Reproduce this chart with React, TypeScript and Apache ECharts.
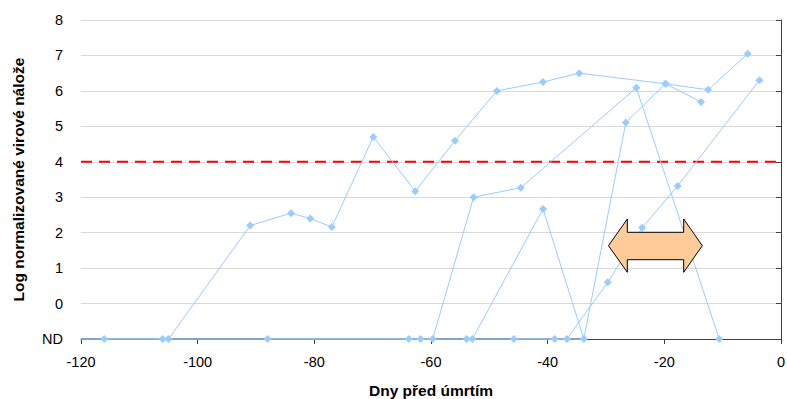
import React, { useEffect, useRef } from "react";
import * as echarts from "echarts";

const ND = -1;
const seriesA: [number, number][] = [
  [-116, ND], [-106, ND], [-105, ND], [-91, 2.2], [-84, 2.55], [-80.7, 2.4], [-77, 2.16],
  [-69.9, 4.7], [-62.7, 3.17], [-55.9, 4.59], [-48.7, 6.0], [-40.8, 6.25], [-34.6, 6.5],
  [-19.8, 6.2], [-12.5, 6.03], [-5.7, 7.05],
];
const seriesB: [number, number][] = [
  [-88, ND], [-63.8, ND], [-61.8, ND], [-59.7, ND], [-52.7, 3.0], [-44.6, 3.27], [-24.8, 6.09], [-10.6, ND],
];
const seriesC: [number, number][] = [
  [-53.9, ND], [-52.9, ND], [-40.8, 2.67], [-33.8, ND], [-26.6, 5.11], [-19.8, 6.2], [-13.7, 5.69],
];
const seriesE: [number, number][] = [
  [-45.8, ND], [-38.8, ND], [-36.7, ND], [-29.7, 0.6], [-23.8, 2.14], [-17.7, 3.32], [-3.7, 6.3],
];
const ndBaseline: [number, number][] = [[-120, ND], [-33.8, ND]];
const threshold = 4;
const thresholdLine: [number, number][] = [[-120, threshold], [-0.8, threshold]];
const yTickLabels: Record<number, string> = { [-1]: "ND" };

const FONT = "'Liberation Sans', Arial, sans-serif";
const BLUE = "#99ccff";

export default function App() {
  const ref = useRef<HTMLDivElement>(null);
  useEffect(() => {
    if (!ref.current) return;
    const chart = echarts.init(ref.current, null, { renderer: "svg" });
    const patient = (data: [number, number][]) => ({
      type: "line",
      data,
      symbol: "diamond",
      symbolSize: 8,
      lineStyle: { color: BLUE, width: 1 },
      itemStyle: { color: BLUE },
      z: 3,
    });
    chart.setOption({
      animation: false,
      grid: { left: 81, right: 6, top: 20, bottom: 60, containLabel: false, outerBoundsMode: "none" },
      xAxis: {
        type: "value",
        min: -120,
        max: 0,
        interval: 20,
        name: "Dny před úmrtím",
        nameLocation: "middle",
        nameGap: 43,
        nameTextStyle: { fontFamily: FONT, fontSize: 15.5, fontWeight: "bold", color: "#000" },
        axisLine: { show: true, onZero: false, lineStyle: { color: "#404040", width: 1 } },
        axisTick: { show: true, inside: false, length: 5, lineStyle: { color: "#404040" } },
        axisLabel: { fontFamily: FONT, fontSize: 14.5, color: "#000", margin: 15 },
        splitLine: { show: false },
      },
      yAxis: {
        type: "value",
        min: -1,
        max: 8,
        interval: 1,
        name: "Log normalizované virové nálože",
        nameLocation: "middle",
        nameGap: 55,
        nameTextStyle: { fontFamily: FONT, fontSize: 15.5, fontWeight: "bold", color: "#000" },
        axisLine: { show: true, lineStyle: { color: "#404040", width: 1 } },
        axisTick: { show: true, inside: false, length: 5, lineStyle: { color: "#404040" } },
        axisLabel: {
          fontFamily: FONT,
          fontSize: 14.5,
          color: "#000",
          margin: 18,
          formatter: (v: number) => yTickLabels[v] ?? String(v),
        },
        splitLine: { show: true, lineStyle: { color: "#d9d9d9", width: 1 } },
      },
      series: [
        {
          type: "line",
          data: ndBaseline,
          symbol: "none",
          lineStyle: { color: "#82a3cc", width: 2 },
          z: 2,
        },
        {
          type: "line",
          data: thresholdLine,
          symbol: "none",
          lineStyle: { color: "#ff0000", width: 2, type: [11, 7] },
          z: 2,
        },
        patient(seriesA),
        patient(seriesB),
        patient(seriesC),
        patient(seriesE),
      ],
      graphic: [
        {
          type: "polygon",
          z: 100,
          shape: {
            points: [
              [608.5, 245.7], [627.3, 219], [627.3, 232.3], [683.7, 232.3], [683.7, 219],
              [702.3, 245.7], [683.7, 272.3], [683.7, 259.7], [627.3, 259.7], [627.3, 272.3],
            ],
          },
          style: { fill: "#ffcc99", stroke: "#000", lineWidth: 1 },
        },
      ],
    });
    return () => chart.dispose();
  }, []);
  return <div ref={ref} style={{ width: 787, height: 399, position: "absolute", left: 0, top: 0 }} />;
}
